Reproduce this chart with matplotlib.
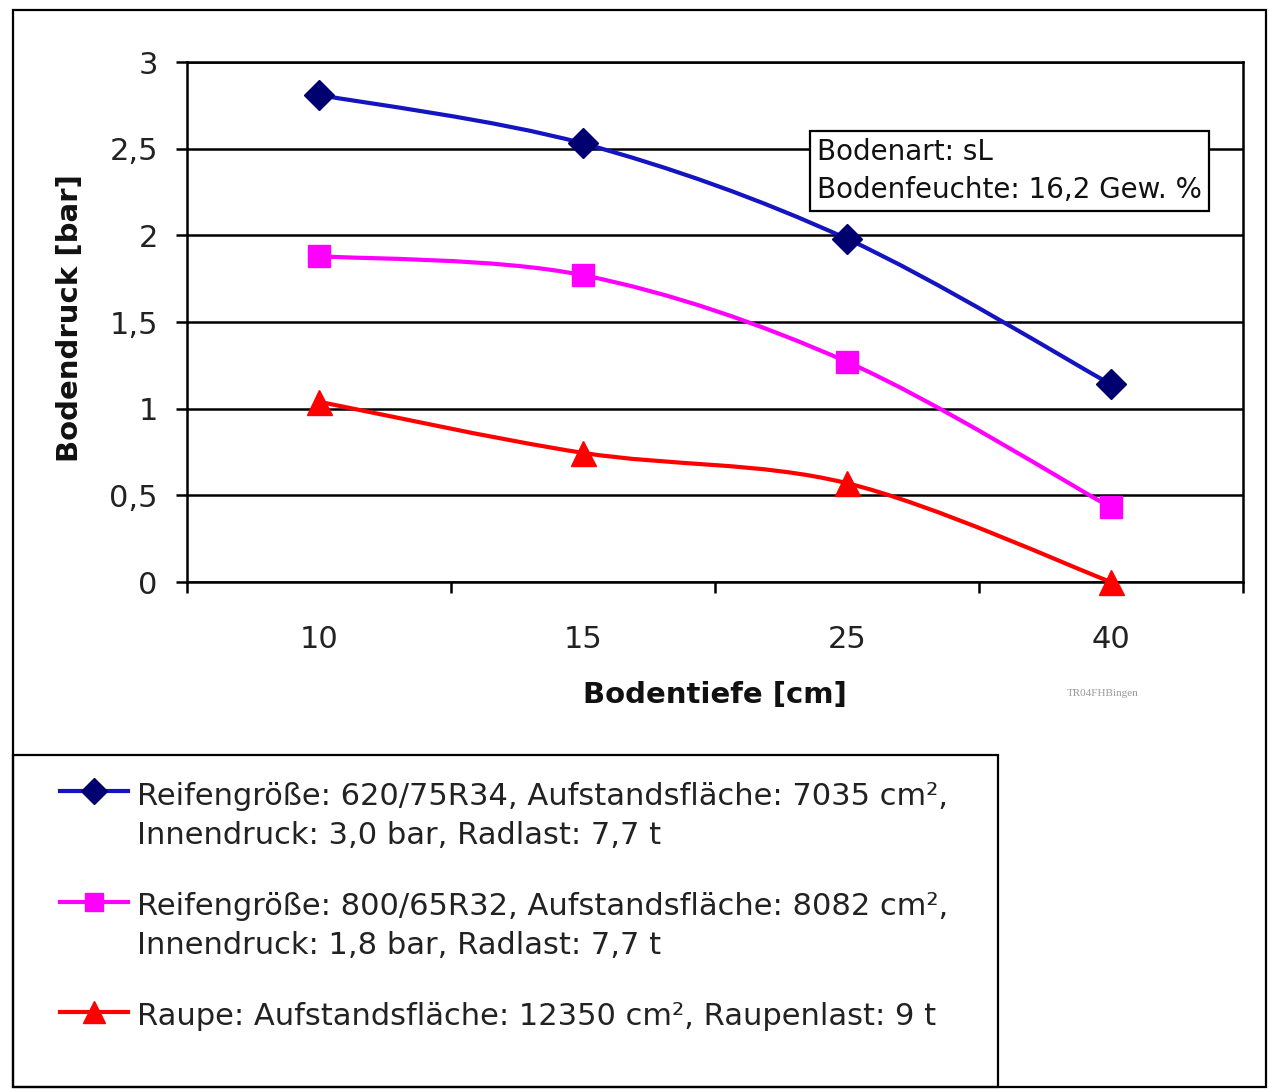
import matplotlib
matplotlib.use("Agg")
import matplotlib.pyplot as plt
import numpy as np
from matplotlib.path import Path
from matplotlib.patches import PathPatch, Rectangle
from matplotlib.lines import Line2D
from matplotlib.ticker import FuncFormatter, FixedLocator

plt.rcParams["font.family"] = ["DejaVu Sans"]

# soil depth categories and soil pressure per running gear
depths = ["10", "15", "25", "40"]
tyre_620 = [2.81, 2.53, 1.98, 1.14]
tyre_800 = [1.88, 1.77, 1.27, 0.43]
track = [1.04, 0.745, 0.57, 0.0]

labels = [
    ["Reifengröße: 620/75R34, Aufstandsfläche: 7035 cm²,", "Innendruck: 3,0 bar, Radlast: 7,7 t"],
    ["Reifengröße: 800/65R32, Aufstandsfläche: 8082 cm²,", "Innendruck: 1,8 bar, Radlast: 7,7 t"],
    ["Raupe: Aufstandsfläche: 12350 cm², Raupenlast: 9 t"],
]

W, H = 1269, 1090
fig = plt.figure(figsize=(W / 100, H / 100), dpi=100)
fig.patch.set_facecolor("white")


def fx(px):
    return px / W


def fy(py):
    return 1 - py / H


# outer chart border and legend border
fig.patches.append(Rectangle((fx(13), fy(1087)), fx(1266) - fx(13), fy(10) - fy(1087),
                             transform=fig.transFigure, fill=False, ec="black", lw=1.6))
fig.patches.append(Rectangle((fx(13), fy(1087)), fx(998) - fx(13), fy(755) - fy(1087),
                             transform=fig.transFigure, fill=False, ec="black", lw=1.6))

ax = fig.add_axes([fx(187), fy(582), fx(1243) - fx(187), fy(62) - fy(582)])


def smooth_path(xs, ys):
    # Bezier curve through the points (Excel-style smoothed line)
    p = np.column_stack([xs, ys]).astype(float)
    n = len(p)
    verts = [p[0]]
    codes = [Path.MOVETO]
    for i in range(n - 1):
        prev = p[i - 1] if i > 0 else p[i]
        nxt = p[i + 2] if i + 2 < n else p[i + 1]
        c1 = p[i] + (p[i + 1] - prev) / 6
        c2 = p[i + 1] - (nxt - p[i]) / 6
        verts += [c1, c2, p[i + 1]]
        codes += [Path.CURVE4] * 3
    return Path(verts, codes)


x = np.arange(len(depths))
series = [
    (tyre_620, "#1414c0", "#000070", "D", 15),
    (tyre_800, "#ff00ff", "#ff00ff", "s", 16),
    (track, "#ff0000", "#ff0000", "^", 18),
]
for ys, lc, mc, mk, ms in series:
    ax.add_patch(PathPatch(smooth_path(x, ys), fill=False, ec=lc, lw=3, zorder=3,
                           capstyle="round", joinstyle="round"))
    ax.plot(x, ys, ls="none", marker=mk, ms=ms, mfc=mc, mec=mc, zorder=4, clip_on=False)

ax.set_xlim(-0.5, len(depths) - 0.5)
ax.set_ylim(0, 3)
ax.yaxis.set_major_locator(FixedLocator(np.arange(0, 3.01, 0.5)))
ax.yaxis.set_major_formatter(FuncFormatter(lambda v, _: f"{v:g}".replace(".", ",")))
ax.grid(axis="y", color="black", lw=1.8)
ax.set_axisbelow(True)

ax.set_xticks(np.arange(len(depths) + 1) - 0.5)
ax.set_xticklabels([])
ax.set_xticks(x, minor=True)
ax.set_xticklabels(depths, minor=True)
ax.tick_params(axis="x", which="major", direction="out", length=8, width=1.8)
ax.tick_params(axis="x", which="minor", length=0, pad=31, labelsize=22, labelcolor="#222222")
ax.tick_params(axis="y", direction="out", length=8, width=1.8, pad=13,
               labelsize=22, labelcolor="#222222")
for sp in ax.spines.values():
    sp.set_linewidth(1.8)

fig.text(fx(70), fy(318), "Bodendruck [bar]", rotation=90, ha="center", va="center",
         fontsize=21, fontweight="bold", color="#111111")
fig.text(fx(715), fy(695), "Bodentiefe [cm]", ha="center", va="center",
         fontsize=21, fontweight="bold", color="#111111")
fig.text(fx(1103), fy(694), "TR04FHBingen", ha="center", va="center",
         fontsize=8, family="Liberation Serif", color="#999999")

ax.text(fx(817 - 187) / (fx(1243) - fx(187)), (fy(171) - fy(582)) / (fy(62) - fy(582)),
        "Bodenart: sL\nBodenfeuchte: 16,2 Gew. %", transform=ax.transAxes,
        ha="left", va="center", fontsize=20, color="#111111", linespacing=1.45,
        bbox=dict(boxstyle="square,pad=0.25", fc="white", ec="black", lw=1.6), zorder=5)

# legend: key sits level with the first text line of each entry
key_y = [791, 902, 1012]
first_baseline = [805, 915, 1025]
for (ys, lc, mc, mk, ms), lines, yk, yb in zip(series, labels, key_y, first_baseline):
    fig.add_artist(Line2D([fx(60), fx(128)], [fy(yk), fy(yk)], color=lc, lw=3,
                          transform=fig.transFigure))
    fig.add_artist(Line2D([fx(94)], [fy(yk)], ls="none", marker=mk, ms=ms * 0.85,
                          mfc=mc, mec=mc, transform=fig.transFigure))
    for k, line in enumerate(lines):
        fig.text(fx(137), fy(yb + 39 * k), line, ha="left", va="baseline",
                 fontsize=22, color="#222222")

fig.savefig("out.png", dpi=100, facecolor="white")
